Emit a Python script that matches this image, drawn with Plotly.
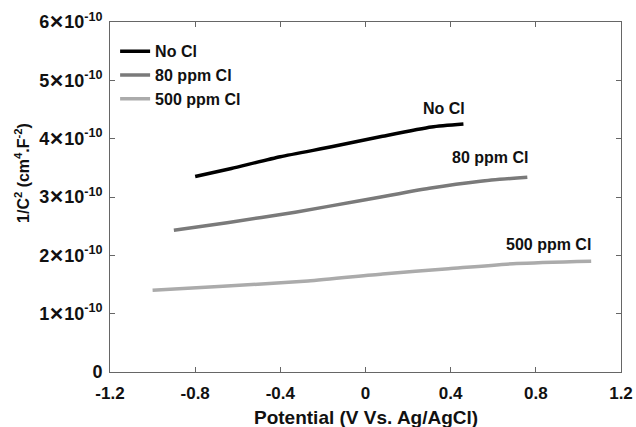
import plotly.graph_objects as go

# Data
x_nocl = [-0.80, -0.63, -0.40, -0.16, 0.08, 0.31, 0.46]
y_nocl = [3.35e-10, 3.49e-10, 3.69e-10, 3.86e-10, 4.04e-10, 4.20e-10, 4.25e-10]

x_80 = [-0.90, -0.65, -0.33, -0.02, 0.30, 0.54, 0.76]
y_80 = [2.43e-10, 2.56e-10, 2.74e-10, 2.94e-10, 3.15e-10, 3.27e-10, 3.34e-10]

x_500 = [-1.00, -0.67, -0.27, 0.08, 0.39, 0.71, 1.06]
y_500 = [1.40e-10, 1.47e-10, 1.56e-10, 1.68e-10, 1.77e-10, 1.86e-10, 1.90e-10]

series_names = ["No Cl", "80 ppm Cl", "500 ppm Cl"]
series_colors = ["#000000", "#7a7a7a", "#ababab"]

x_ticks = [-1.2, -0.8, -0.4, 0, 0.4, 0.8, 1.2]
x_ticktext = ["-1.2", "-0.8", "-0.4", "0", "0.4", "0.8", "1.2"]
y_ticks = [0, 1e-10, 2e-10, 3e-10, 4e-10, 5e-10, 6e-10]
y_ticktext = ["0"] + [f"{i}\u271510<sup>-10</sup>" for i in range(1, 7)]

# Curve label positions (data coordinates)
label_x = [0.37, 0.585, 0.86]
label_y = [4.52e-10, 3.67e-10, 2.19e-10]

FONT = "Liberation Sans, Arial, sans-serif"

fig = go.Figure()
for xs, ys, name, col in zip([x_nocl, x_80, x_500], [y_nocl, y_80, y_500],
                             series_names, series_colors):
    fig.add_trace(go.Scatter(x=xs, y=ys, mode="lines", name=name,
                             line=dict(color=col, width=3.5, shape="spline",
                                       smoothing=0.6)))

for tx, ty, name in zip(label_x, label_y, series_names):
    fig.add_annotation(x=tx, y=ty, text=name, showarrow=False,
                       font=dict(family=FONT, size=16, color="#111", weight="bold"))

# Axis titles
fig.add_annotation(xref="paper", yref="paper", x=0.5, y=-0.131, yanchor="middle",
                   text="Potential (V Vs. Ag/AgCl)", showarrow=False,
                   font=dict(family=FONT, size=19, color="#111", weight="bold"))
fig.add_annotation(xref="paper", yref="paper", x=-0.172, y=0.569, xanchor="center",
                   yanchor="middle", textangle=-90,
                   text="1/C<sup>2</sup> (cm<sup>4</sup>.F<sup>-2</sup>)", showarrow=False,
                   font=dict(family=FONT, size=16, color="#111", weight="bold"))

axis_common = dict(
    showline=True, linecolor="#666", linewidth=1, mirror="ticks",
    ticks="inside", ticklen=5, tickcolor="#666", tickwidth=1,
    showgrid=False, zeroline=False, automargin=False,
)

fig.update_layout(
    width=636, height=427,
    margin=dict(l=110, r=15, t=22, b=55),
    paper_bgcolor="white", plot_bgcolor="white",
    showlegend=True,
    legend=dict(x=0.01, y=0.965, xanchor="left", yanchor="top",
                bgcolor="rgba(0,0,0,0)", itemwidth=30,
                font=dict(family=FONT, size=16, color="#111", weight="bold"),
                tracegroupgap=0),
    xaxis=dict(range=[-1.2, 1.2], tickvals=x_ticks, ticktext=x_ticktext,
               ticklabelstandoff=6,
               tickfont=dict(family=FONT, size=17, color="#111", weight="bold"),
               **axis_common),
    yaxis=dict(range=[0, 6e-10], tickvals=y_ticks, ticktext=y_ticktext,
               ticklabelstandoff=3,
               tickfont=dict(family=FONT, size=18, color="#111", weight="bold"),
               **axis_common),
)

fig.write_html("out.html")
